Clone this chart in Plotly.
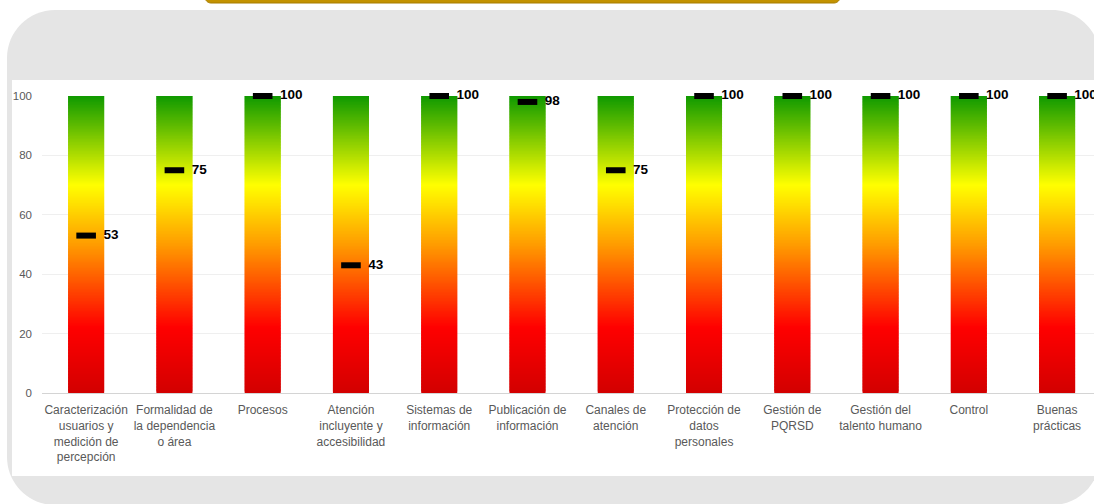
import numpy as np
import plotly.graph_objects as go
from plotly.colors import sample_colorscale

# ---------------- data ----------------
categories = [
    "Caracterización<br>usuarios y<br>medición de<br>percepción",
    "Formalidad de<br>la dependencia<br>o área",
    "Procesos",
    "Atención<br>incluyente y<br>accesibilidad",
    "Sistemas de<br>información",
    "Publicación de<br>información",
    "Canales de<br>atención",
    "Protección de<br>datos<br>personales",
    "Gestión de<br>PQRSD",
    "Gestión del<br>talento humano",
    "Control",
    "Buenas<br>prácticas",
]
scores = [53, 75, 100, 43, 100, 98, 75, 100, 100, 100, 100, 100]
scale_max = [100, 100, 100, 100, 100, 100, 100, 100, 100, 100, 100, 100]
y_ticks = [0, 20, 40, 60, 80, 100]

# ---------------- geometry ----------------
W, H = 1094, 504
ML, MR, MT, MB = 42, 0, 96, 504 - 393
PW, PH = W - ML - MR, H - MT - MB
BAND = 88.27


def px(x):
    return (x - ML) / PW


def py(y):
    return (H - MB - y) / PH


def rrect_path(x0, y0, x1, y1, r):
    k = 0.5523 * r
    pts = [
        ("M", [(x0 + r, y0)]),
        ("L", [(x1 - r, y0)]),
        ("C", [(x1 - r + k, y0), (x1, y0 + r - k), (x1, y0 + r)]),
        ("L", [(x1, y1 - r)]),
        ("C", [(x1, y1 - r + k), (x1 - r + k, y1), (x1 - r, y1)]),
        ("L", [(x0 + r, y1)]),
        ("C", [(x0 + r - k, y1), (x0, y1 - r + k), (x0, y1 - r)]),
        ("L", [(x0, y0 + r)]),
        ("C", [(x0, y0 + r - k), (x0 + r - k, y0), (x0 + r, y0)]),
    ]
    s = ""
    for cmd, ps in pts:
        s += cmd + " " + " ".join(f"{px(a):.5f},{py(b):.5f}" for a, b in ps) + " "
    return s + "Z"


# ---------------- gradient bars ----------------
colorscale = [
    [0.0, "#d20000"],
    [0.22, "#ff0000"],
    [0.5, "#ff9c00"],
    [0.70, "#ffff00"],
    [1.0, "#0f9900"],
]
step = 0.5
bx, bbase, by, bcol = [], [], [], []
for cat, top in zip(categories, scale_max):
    starts = np.arange(0, top, step)
    cols = sample_colorscale(colorscale, list(np.clip((starts + step / 2) / 100, 0, 1)))
    for s, c in zip(starts, cols):
        bx.append(cat)
        bbase.append(float(s))
        by.append(float(min(step + 0.5, top - s)))
        bcol.append(c)

FONT = "Liberation Sans Narrow, Arial Narrow, Liberation Sans, Arial, sans-serif"

fig = go.Figure()
fig.add_trace(go.Bar(
    x=bx, y=by, base=bbase,
    marker=dict(color=bcol, line=dict(width=0)),
    width=0.408, hoverinfo="skip", showlegend=False,
))

fig.add_trace(go.Scatter(
    x=categories, y=scores, mode="markers+text",
    marker=dict(symbol="line-ew", size=14, color="black",
                line=dict(color="black", width=6)),
    text=["\u00a0\u00a0" + str(v) for v in scores], textposition="middle right",
    textfont=dict(family=FONT, size=13.5, color="black", weight="bold"),
    cliponaxis=False, hoverinfo="skip", showlegend=False,
))

shapes = [
    # gray rounded card
    dict(type="path", xref="paper", yref="paper", layer="below",
         path=rrect_path(7, 10, 1100, 505, 48),
         fillcolor="#e5e5e5", line=dict(width=0)),
    # white chart panel
    dict(type="rect", xref="paper", yref="paper", layer="below",
         x0=px(12), x1=px(1110), y0=py(476), y1=py(80),
         fillcolor="white", line=dict(width=0)),
    # gold bar at the top
    dict(type="path", xref="paper", yref="paper", layer="below",
         path=rrect_path(205, -12, 840, 3, 6),
         fillcolor="#c39200", line=dict(width=1, color="#a67c00")),
]

fig.update_layout(
    width=W, height=H,
    margin=dict(l=ML, r=MR, t=MT, b=MB, pad=0, autoexpand=False),
    paper_bgcolor="white", plot_bgcolor="rgba(0,0,0,0)",
    showlegend=False, barmode="overlay",
    shapes=shapes,
    xaxis=dict(type="category", categoryorder="array", categoryarray=categories,
               range=[-0.5, -0.5 + PW / BAND], showgrid=False, zeroline=False,
               showline=True, linecolor="#d4d4d4", linewidth=1, tickangle=0,
               ticks="", tickfont=dict(family=FONT, size=12, color="#595959"),
               ticklabelstandoff=6, fixedrange=True),
    yaxis=dict(range=[0, 100], tickvals=y_ticks, showgrid=True, gridcolor="#efefef",
               gridwidth=1, zeroline=False, showline=False, ticks="",
               tickfont=dict(family=FONT, size=11.5, color="#595959"),
               ticklabelstandoff=9, fixedrange=True),
)

fig.write_html(
    "out.html",
    config={"displayModeBar": False, "staticPlot": True},
    post_script="document.body.style.margin='0';document.body.style.overflow='hidden';",
)
